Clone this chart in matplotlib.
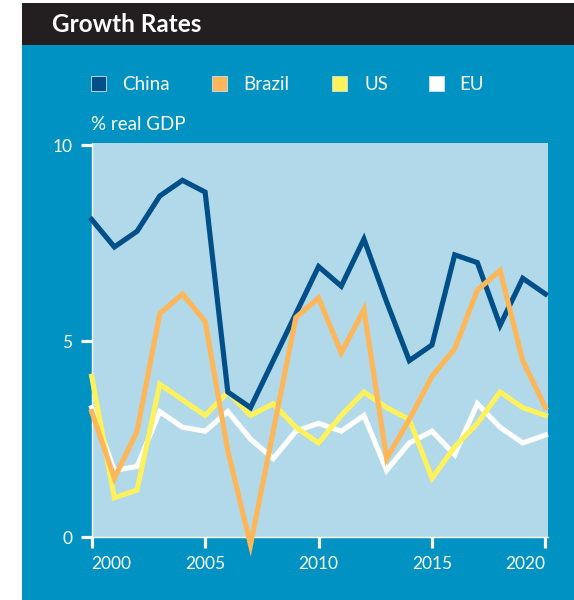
import matplotlib
matplotlib.use("Agg")
import matplotlib.pyplot as plt
from matplotlib.patches import Rectangle

plt.rcParams["font.family"] = ["Lato", "DejaVu Sans"]

# data
years = list(range(2000, 2021))
china = [8.1, 7.4, 7.8, 8.7, 9.1, 8.8, 3.7, 3.3, 4.5, 5.7, 6.9, 6.4, 7.6, 6.0, 4.5, 4.9, 7.2, 7.0, 5.4, 6.6, 6.2]
brazil = [3.2, 1.5, 2.7, 5.7, 6.2, 5.5, 2.2, -0.2, 2.7, 5.6, 6.1, 4.7, 5.8, 2.0, 3.0, 4.1, 4.8, 6.3, 6.8, 4.5, 3.3]
us = [4.1, 1.0, 1.2, 3.9, 3.5, 3.1, 3.7, 3.1, 3.4, 2.8, 2.4, 3.1, 3.7, 3.3, 3.0, 1.5, 2.3, 2.9, 3.7, 3.3, 3.1]
eu = [3.3, 1.7, 1.8, 3.2, 2.8, 2.7, 3.2, 2.5, 2.0, 2.7, 2.9, 2.7, 3.1, 1.7, 2.4, 2.7, 2.1, 3.4, 2.8, 2.4, 2.6]
series_names = ["China", "Brazil", "US", "EU"]
xticks = [2000, 2005, 2010, 2015, 2020]
yticks = [0, 5, 10]

C_CHINA, C_BRAZIL, C_US, C_EU = "#004f88", "#fdb759", "#fdf25c", "#ffffff"
BG_BLUE, PLOT_BG, HEADER = "#0092c2", "#b1d9ea", "#231f20"

W, H = 574, 600
fig = plt.figure(figsize=(W / 100, H / 100), dpi=100, facecolor="white")


def fx(px):
    return px / W


def fy(py):              # py measured from the top
    return 1 - py / H


# background panels
fig.add_artist(Rectangle((fx(22), 0), 1 - fx(22), fy(45), transform=fig.transFigure,
                         facecolor=BG_BLUE, edgecolor="none", zorder=0))
fig.add_artist(Rectangle((fx(22), fy(45)), 1 - fx(22), fy(3) - fy(45), transform=fig.transFigure,
                         facecolor=HEADER, edgecolor="none", zorder=0))
fig.text(fx(52), fy(31.5), "Growth Rates", color="white", fontsize=17.5, fontweight="bold",
         va="baseline", ha="left")

# legend, hand placed
sq_x = [91, 212, 332, 429]
tx_x = [122, 243, 364, 459]
for name, c, sx, tx in zip(series_names, [C_CHINA, C_BRAZIL, C_US, C_EU], sq_x, tx_x):
    fig.add_artist(Rectangle((fx(sx), fy(91)), fx(15), fy(76) - fy(91), transform=fig.transFigure,
                             facecolor=c, edgecolor="#c8e4f0", linewidth=0.6, zorder=2))
    fig.text(fx(tx), fy(90.5), name, color="white", fontsize=13.5, va="baseline", ha="left")
fig.text(fx(91), fy(130.5), "% real GDP", color="white", fontsize=13.5, va="baseline", ha="left")

ax = fig.add_axes([fx(91.7), fy(537), fx(547.7) - fx(91.7), fy(142.7) - fy(537)])
ax.set_facecolor(PLOT_BG)

# drawing order: EU under US under China under Brazil
for vals, c in [(eu, C_EU), (us, C_US), (china, C_CHINA), (brazil, C_BRAZIL)]:
    ax.plot(years, vals, color=c, lw=3.7, solid_joinstyle="miter", clip_on=False, zorder=3)

ax.set_xlim(2000, 2020.1)
ax.set_ylim(0, 10.06)
ax.set_xticks(xticks)
ax.set_yticks(yticks)
ax.set_xticklabels([str(t) for t in xticks])
ax.set_yticklabels([str(t) for t in yticks])
labs = ax.get_xticklabels()
labs[0].set_ha("left")
labs[-1].set_ha("right")
ax.tick_params(colors="white", labelsize=12.5, width=2.3, length=8, pad=6)
for s in ["top", "right"]:
    ax.spines[s].set_visible(False)
for s in ["left", "bottom"]:
    ax.spines[s].set_color("white")
    ax.spines[s].set_linewidth(1.0)

fig.savefig("out.png", dpi=100)
